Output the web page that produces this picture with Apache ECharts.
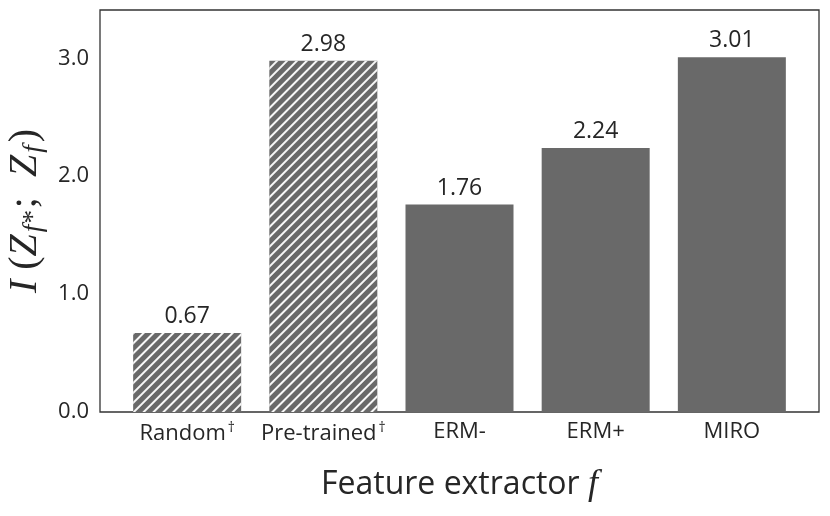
<!DOCTYPE html>
<html>
<head>
<meta charset="utf-8">
<script src="https://cdn.jsdelivr.net/npm/echarts@6/dist/echarts.min.js"></script>
<style>html,body{margin:0;padding:0;background:#fff}#c{width:830px;height:516px}</style>
</head>
<body>
<div id="c"></div>
<script>
const categories = ['Random', 'Pre-trained', 'ERM-', 'ERM+', 'MIRO'];
const daggers = [true, true, false, false, false];
const hatched = [true, true, false, false, false];
const values = [0.67, 2.98, 1.76, 2.24, 3.01];
const yTicks = [0, 1, 2, 3];
const xPositions = [0, 1, 2, 3, 4];

const SANS = '"Open Sans", "Noto Sans", sans-serif';
const SERIF = '"Liberation Serif", "DejaVu Serif", serif';
const TXT = '#262626';
const BAR = '#696969';

const chart = echarts.init(document.getElementById('c'), null, {renderer: 'canvas'});

const data = values.map((v, i) => {
  const item = { value: [xPositions[i], v] };
  if (hatched[i]) {
    item.itemStyle = {
      color: BAR,
      decal: {
        symbol: 'rect',
        color: 'rgba(255,255,255,0.95)',
        dashArrayX: [1, 0],
        dashArrayY: [2, 5],
        rotation: -Math.PI / 4
      }
    };
  }
  return item;
});

chart.setOption({
  animation: false,
  backgroundColor: '#fff',
  grid: {
    left: 100, right: 11, top: 10, bottom: 104,
    outerBoundsMode: 'none',
    containLabel: false,
    show: true, borderColor: '#333', borderWidth: 1.3, backgroundColor: 'transparent'
  },
  xAxis: {
    type: 'value',
    min: -0.64, max: 4.64,
    axisLine: { show: false },
    axisTick: { show: false },
    splitLine: { show: false },
    axisLabel: {
      customValues: xPositions,
      margin: 9,
      color: TXT,
      fontFamily: SANS,
      fontSize: 22,
      formatter: function (v) {
        const i = Math.round(v);
        return daggers[i] ? '{a|' + categories[i] + '}{d|†}' : '{a|' + categories[i] + '}';
      },
      rich: {
        a: { fontFamily: SANS, fontSize: 22, color: TXT },
        d: { fontFamily: SANS, fontSize: 14, color: TXT, padding: [0, 0, 11, 2] }
      }
    },
    name: '{a|Feature extractor }{f|f}',
    nameLocation: 'middle',
    nameGap: 55,
    nameTextStyle: {
      rich: {
        a: { fontFamily: SANS, fontSize: 32, color: TXT },
        f: { fontFamily: SERIF, fontStyle: 'italic', fontSize: 36, color: TXT }
      }
    }
  },
  yAxis: {
    type: 'value',
    min: 0, max: 3.41, interval: 1,
    axisLine: { show: false },
    axisTick: { show: false },
    splitLine: { show: false },
    axisLabel: {
      showMaxLabel: false,
      margin: 11,
      color: TXT,
      fontFamily: SANS,
      fontSize: 22,
      formatter: function (v) { return yTicks.indexOf(v) >= 0 ? v.toFixed(1) : ''; }
    },
    name: '{i|I}{p| (}{i|Z}{s|f*}{p|;  }{i|Z}{s|f}{p|)}',
    nameLocation: 'middle',
    nameGap: 50,
    nameRotate: 90,
    nameTextStyle: {
      rich: {
        i: { fontFamily: SERIF, fontStyle: 'italic', fontSize: 40, color: TXT },
        p: { fontFamily: SERIF, fontSize: 40, color: TXT },
        s: { fontFamily: SERIF, fontStyle: 'italic', fontSize: 27, color: TXT, padding: [16, 3, 0, 2] }
      }
    }
  },
  series: [{
    type: 'bar',
    barWidth: 108,
    data: data,
    itemStyle: { color: BAR },
    label: {
      show: true,
      position: 'top',
      distance: 5,
      color: TXT,
      fontFamily: SANS,
      fontSize: 23,
      formatter: function (p) { return p.value[1].toFixed(2); }
    }
  }]
});
</script>
</body>
</html>
